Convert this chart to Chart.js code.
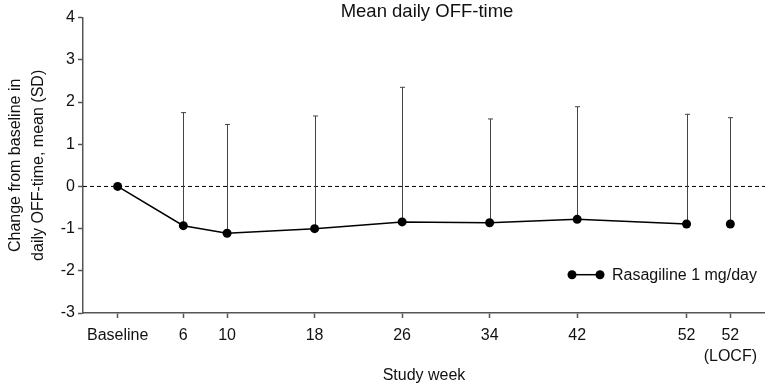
<!DOCTYPE html>
<html>
<head>
<meta charset="utf-8">
<script src="https://cdn.jsdelivr.net/npm/chart.js@4.4.1/dist/chart.umd.min.js"></script>
<style>
  html, body { margin: 0; padding: 0; background: #fff; overflow: hidden; }
  #wrap { width: 765px; height: 385px; position: relative; }
  canvas { display: block; }
</style>
</head>
<body>
<div id="wrap"><canvas id="c" width="765" height="385"></canvas></div>
<script>
// ---- data ----
const weeks = [0, 6, 10, 18, 26, 34, 42, 52];
const meanChange = [0, -0.93, -1.11, -1.0, -0.84, -0.86, -0.78, -0.89];
const sdValues = [null, 2.68, 2.58, 2.67, 3.19, 2.46, 2.67, 2.60];
const locfWeek = [56];
const locfMean = [-0.89];
const locfSd = [2.52];
const tickWeeks = [0, 6, 10, 18, 26, 34, 42, 52, 56];
const tickLabels = ['Baseline', '6', '10', '18', '26', '34', '42', '52', ['52', '(LOCF)']];
const yTicks = [-3, -2, -1, 0, 1, 2, 3, 4];
const seriesName = 'Rasagiline 1 mg/day';
const chartTitle = 'Mean daily OFF-time';
const xTitle = 'Study week';
const yTitle = ['Change from baseline in', 'daily OFF-time, mean (SD)'];

const FONT = "'Liberation Sans', Arial, Helvetica, sans-serif";
const AXIS = '#555';
const TEXT = '#111';

const mainPoints = weeks.map((w, i) => ({ x: w, y: meanChange[i], sd: sdValues[i] }));
const locfPoints = locfWeek.map((w, i) => ({ x: w, y: locfMean[i], sd: locfSd[i] }));

const extras = {
  id: 'extras',
  beforeDatasetsDraw(chart) {
    const { ctx, chartArea, scales } = chart;
    const xs = scales.x, ys = scales.y;
    ctx.save();
    // dashed zero line
    const y0 = ys.getPixelForValue(0);
    ctx.strokeStyle = '#000';
    ctx.lineWidth = 1;
    ctx.setLineDash([4, 3]);
    ctx.beginPath();
    ctx.moveTo(chartArea.left, y0);
    ctx.lineTo(chartArea.right, y0);
    ctx.stroke();
    ctx.setLineDash([]);
    // one-sided SD bars
    ctx.strokeStyle = '#444';
    ctx.lineWidth = 1;
    [...mainPoints, ...locfPoints].forEach(p => {
      if (p.sd == null) return;
      const px = Math.round(xs.getPixelForValue(p.x)) + 0.5;
      const pyMean = ys.getPixelForValue(p.y);
      const pyTop = ys.getPixelForValue(p.y + p.sd);
      ctx.beginPath();
      ctx.moveTo(px, pyMean);
      ctx.lineTo(px, pyTop);
      ctx.moveTo(px - 2.5, pyTop);
      ctx.lineTo(px + 2.5, pyTop);
      ctx.stroke();
    });
    ctx.restore();
  },
  afterDraw(chart) {
    const { ctx, chartArea } = chart;
    ctx.save();
    // title
    ctx.fillStyle = TEXT;
    ctx.font = '18.5px ' + FONT;
    ctx.textAlign = 'center';
    ctx.textBaseline = 'middle';
    ctx.fillText(chartTitle, (chartArea.left + chartArea.right) / 2 + 3, 11.5);
    // legend
    const ly = chartArea.top + 257;
    const lx1 = chartArea.right - 193;
    const lx2 = lx1 + 28;
    ctx.strokeStyle = '#000';
    ctx.lineWidth = 1.5;
    ctx.beginPath();
    ctx.moveTo(lx1, ly);
    ctx.lineTo(lx2, ly);
    ctx.stroke();
    ctx.fillStyle = '#000';
    [lx1, lx2].forEach(x => {
      ctx.beginPath();
      ctx.arc(x, ly, 4.5, 0, Math.PI * 2);
      ctx.fill();
    });
    ctx.fillStyle = TEXT;
    ctx.font = '16px ' + FONT;
    ctx.textAlign = 'left';
    ctx.fillText(seriesName, lx2 + 12, ly + 0.5);
    ctx.restore();
  }
};

new Chart(document.getElementById('c'), {
  type: 'line',
  data: {
    datasets: [
      {
        label: seriesName,
        data: mainPoints,
        borderColor: '#000',
        backgroundColor: '#000',
        borderWidth: 1.5,
        pointRadius: 4.5,
        pointBackgroundColor: '#000',
        pointBorderColor: '#000',
        pointBorderWidth: 0,
        tension: 0
      },
      {
        label: seriesName + ' (LOCF)',
        data: locfPoints,
        showLine: false,
        borderColor: '#000',
        backgroundColor: '#000',
        pointRadius: 4.5,
        pointBackgroundColor: '#000',
        pointBorderWidth: 0
      }
    ]
  },
  options: {
    responsive: false,
    animation: false,
    events: [],
    layout: { autoPadding: false, padding: { top: 17.7, right: 0, left: 0, bottom: 0 } },
    plugins: {
      legend: { display: false },
      title: { display: false },
      tooltip: { enabled: false }
    },
    scales: {
      x: {
        type: 'linear',
        min: -3.17,
        max: 59.17,
        afterBuildTicks: s => { s.ticks = tickWeeks.map(v => ({ value: v })); },
        afterFit: s => { s.height = 72; s.paddingLeft = 0; s.paddingRight = 0; },
        ticks: {
          autoSkip: false,
          maxRotation: 0,
          minRotation: 0,
          padding: 7,
          color: TEXT,
          font: { family: FONT, size: 16, lineHeight: 1.3 },
          callback: v => { const i = tickWeeks.indexOf(v); return i >= 0 ? tickLabels[i] : ''; }
        },
        grid: { drawOnChartArea: false, drawTicks: true, tickLength: 5, tickColor: AXIS, tickWidth: 1.5 },
        border: { display: true, color: AXIS, width: 1.5 },
        title: { display: true, text: xTitle, color: TEXT, font: { family: FONT, size: 16, lineHeight: 1.2 }, padding: { top: 0, bottom: 0 } }
      },
      y: {
        type: 'linear',
        min: -3,
        max: 4,
        afterBuildTicks: s => { s.ticks = yTicks.map(v => ({ value: v })); },
        afterFit: s => { s.width = 83; },
        ticks: {
          padding: 3,
          color: TEXT,
          font: { family: FONT, size: 16 },
          callback: v => String(v)
        },
        grid: { drawOnChartArea: false, drawTicks: true, tickLength: 5, tickColor: AXIS, tickWidth: 1.5 },
        border: { display: true, color: AXIS, width: 1.5 },
        title: { display: true, text: yTitle, color: TEXT, font: { family: FONT, size: 16, lineHeight: 1.45 }, padding: { top: 4, bottom: 0 } }
      }
    }
  },
  plugins: [extras]
});
</script>
</body>
</html>
